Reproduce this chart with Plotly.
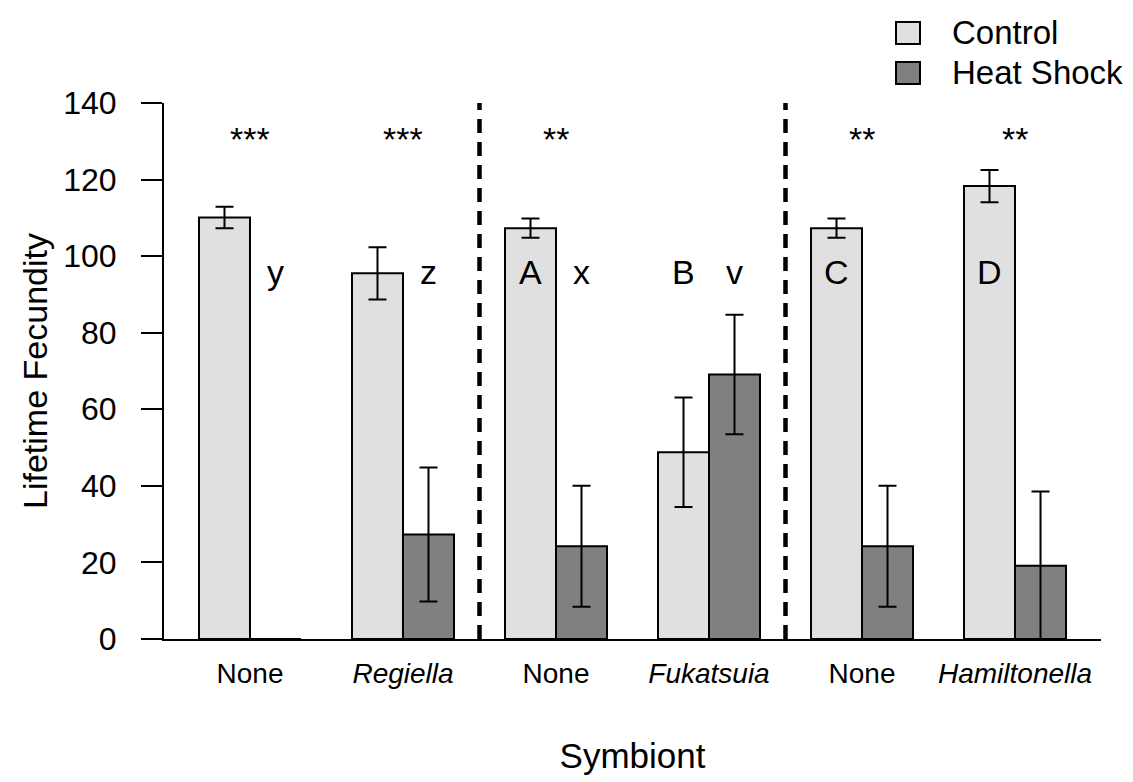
import plotly.graph_objects as go

# ---- data ----
categories = ["None", "<i>Regiella</i>", "None", "<i>Fukatsuia</i>", "None", "<i>Hamiltonella</i>"]
control_mean = [110.1, 95.5, 107.3, 48.8, 107.3, 118.3]
control_se = [2.8, 6.8, 2.5, 14.3, 2.5, 4.2]
heat_mean = [0.0, 27.3, 24.2, 69.1, 24.2, 19.1]
heat_se = [0.0, 17.5, 15.8, 15.6, 15.8, 19.4]
stars = ["***", "***", "**", "", "**", "**"]
control_letters = ["", "", "A", "B", "C", "D"]
heat_letters = ["y", "z", "x", "v", "", ""]
separators = [1.5, 3.5]
y_ticks = [0, 20, 40, 60, 80, 100, 120, 140]
series_names = ["Control", "Heat Shock"]
series_colors = ["#E0E0E0", "#808080"]

# ---- layout constants ----
W, H = 1133, 782
L, R, T, B = 156, 40, 95, 151
FONT = "Liberation Sans, Arial, Helvetica, sans-serif"
BARGAP = 1 / 3
half_off = (1 - BARGAP) / 4  # centre offset of each bar inside its group

def px_x(p):
    return (p - L) / (W - L - R)

def px_y(p):
    return (H - B - p) / (H - T - B)

x = list(range(len(categories)))

fig = go.Figure()
for name, means, ses, color in [
    (series_names[0], control_mean, control_se, series_colors[0]),
    (series_names[1], heat_mean, heat_se, series_colors[1]),
]:
    fig.add_bar(
        x=x, y=means, name=name, showlegend=False,
        marker=dict(color=color, line=dict(color="black", width=2)),
        error_y=dict(type="data", array=ses, visible=True, color="black", thickness=2, width=9),
    )

annotations = []
for i, s in enumerate(stars):
    if s:
        annotations.append(dict(x=x[i], y=130.5, xref="x", yref="y", text=s, showarrow=False,
                                font=dict(size=34, color="black", family=FONT), yanchor="middle"))
for i, s in enumerate(control_letters):
    if s:
        annotations.append(dict(x=x[i] - half_off, y=95.8, xref="x", yref="y", text=s, showarrow=False,
                                font=dict(size=34, color="black", family=FONT), yanchor="middle"))
for i, s in enumerate(heat_letters):
    if s:
        annotations.append(dict(x=x[i] + half_off, y=95.8, xref="x", yref="y", text=s, showarrow=False,
                                font=dict(size=34, color="black", family=FONT), yanchor="middle"))

shapes = []
for sx in separators:
    shapes.append(dict(type="line", xref="x", yref="y", x0=sx, x1=sx, y0=0, y1=140,
                       line=dict(color="black", width=4.5, dash="14px,9px")))

# manual legend (large squares like the reference)
legend_rows = [25, 65]
for name, color, cy in zip(series_names, series_colors, legend_rows):
    shapes.append(dict(type="rect", xref="paper", yref="paper",
                       x0=px_x(888), x1=px_x(912), y0=px_y(cy + 11), y1=px_y(cy - 11),
                       fillcolor=color, line=dict(color="black", width=2)))
    annotations.append(dict(x=px_x(942), y=px_y(cy - 1), xref="paper", yref="paper", text=name,
                            showarrow=False, xanchor="left", yanchor="middle",
                            font=dict(size=33, color="black", family=FONT)))

fig.update_layout(
    width=W, height=H,
    margin=dict(l=L, r=R, t=T, b=B, autoexpand=False),
    paper_bgcolor="white", plot_bgcolor="white",
    barmode="group", bargap=BARGAP, bargroupgap=0,
    font=dict(family=FONT, color="black"),
    showlegend=False,
    annotations=annotations,
    shapes=shapes,
    xaxis=dict(
        range=[-0.562, 5.562], tickmode="array", tickvals=x, ticktext=categories,
        ticks="", showline=True, linecolor="black", linewidth=2,
        showgrid=False, zeroline=False, tickfont=dict(size=28, family=FONT),
        ticklabelstandoff=8,
        title=dict(text="Symbiont", font=dict(size=35, family=FONT), standoff=56),
        automargin=False,
    ),
    yaxis=dict(
        range=[0, 140], tickmode="array", tickvals=y_ticks,
        ticks="outside", ticklen=21, tickwidth=2, tickcolor="black",
        showline=True, linecolor="black", linewidth=2,
        showgrid=False, zeroline=False, tickfont=dict(size=32, family=FONT),
        ticklabelstandoff=18,
        title=dict(text="Lifetime Fecundity", font=dict(size=34, family=FONT), standoff=5),
        automargin=False,
    ),
)

fig.write_html("out.html")
